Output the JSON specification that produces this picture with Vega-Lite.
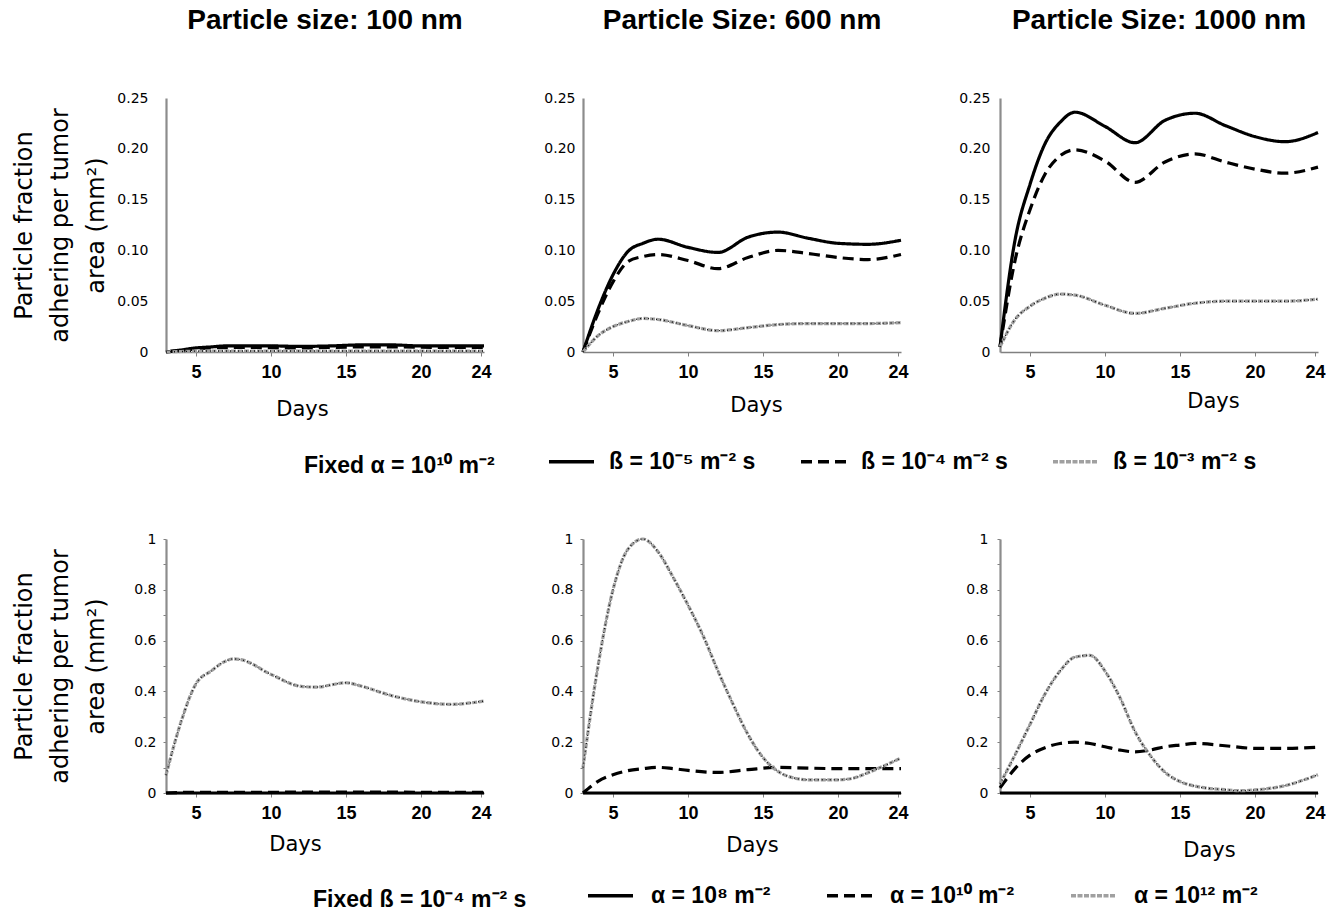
{
  "$schema": "https://vega.github.io/schema/vega-lite/v6.json",
  "padding": {"left": 12, "top": 7, "right": 2, "bottom": 2},
  "datasets": {
    "beta": [
      {"p":"100","s":"ß = 10⁻⁵ m⁻² s","d":3,"v":0},
      {"p":"100","s":"ß = 10⁻⁵ m⁻² s","d":4,"v":0.002},
      {"p":"100","s":"ß = 10⁻⁵ m⁻² s","d":5,"v":0.004},
      {"p":"100","s":"ß = 10⁻⁵ m⁻² s","d":6,"v":0.005},
      {"p":"100","s":"ß = 10⁻⁵ m⁻² s","d":7,"v":0.006},
      {"p":"100","s":"ß = 10⁻⁵ m⁻² s","d":8,"v":0.006},
      {"p":"100","s":"ß = 10⁻⁵ m⁻² s","d":10,"v":0.006},
      {"p":"100","s":"ß = 10⁻⁵ m⁻² s","d":12,"v":0.0055},
      {"p":"100","s":"ß = 10⁻⁵ m⁻² s","d":14,"v":0.006},
      {"p":"100","s":"ß = 10⁻⁵ m⁻² s","d":16,"v":0.007},
      {"p":"100","s":"ß = 10⁻⁵ m⁻² s","d":18,"v":0.007},
      {"p":"100","s":"ß = 10⁻⁵ m⁻² s","d":20,"v":0.006},
      {"p":"100","s":"ß = 10⁻⁵ m⁻² s","d":22,"v":0.006},
      {"p":"100","s":"ß = 10⁻⁵ m⁻² s","d":24.2,"v":0.006},
      {"p":"100","s":"ß = 10⁻⁴ m⁻² s","d":3,"v":0},
      {"p":"100","s":"ß = 10⁻⁴ m⁻² s","d":4,"v":0.0015},
      {"p":"100","s":"ß = 10⁻⁴ m⁻² s","d":5,"v":0.003},
      {"p":"100","s":"ß = 10⁻⁴ m⁻² s","d":6,"v":0.004},
      {"p":"100","s":"ß = 10⁻⁴ m⁻² s","d":8,"v":0.0045},
      {"p":"100","s":"ß = 10⁻⁴ m⁻² s","d":12,"v":0.004},
      {"p":"100","s":"ß = 10⁻⁴ m⁻² s","d":16,"v":0.005},
      {"p":"100","s":"ß = 10⁻⁴ m⁻² s","d":18,"v":0.005},
      {"p":"100","s":"ß = 10⁻⁴ m⁻² s","d":22,"v":0.0045},
      {"p":"100","s":"ß = 10⁻⁴ m⁻² s","d":24.2,"v":0.0045},
      {"p":"100","s":"ß = 10⁻³ m⁻² s","d":3,"v":0},
      {"p":"100","s":"ß = 10⁻³ m⁻² s","d":4,"v":0.0005},
      {"p":"100","s":"ß = 10⁻³ m⁻² s","d":6,"v":0.001},
      {"p":"100","s":"ß = 10⁻³ m⁻² s","d":12,"v":0.001},
      {"p":"100","s":"ß = 10⁻³ m⁻² s","d":18,"v":0.001},
      {"p":"100","s":"ß = 10⁻³ m⁻² s","d":24.2,"v":0.001},
      {"p":"600","s":"ß = 10⁻⁵ m⁻² s","d":3,"v":0},
      {"p":"600","s":"ß = 10⁻⁵ m⁻² s","d":4,"v":0.042},
      {"p":"600","s":"ß = 10⁻⁵ m⁻² s","d":5,"v":0.076},
      {"p":"600","s":"ß = 10⁻⁵ m⁻² s","d":6,"v":0.099},
      {"p":"600","s":"ß = 10⁻⁵ m⁻² s","d":7,"v":0.107},
      {"p":"600","s":"ß = 10⁻⁵ m⁻² s","d":8,"v":0.111},
      {"p":"600","s":"ß = 10⁻⁵ m⁻² s","d":10,"v":0.103},
      {"p":"600","s":"ß = 10⁻⁵ m⁻² s","d":12,"v":0.098},
      {"p":"600","s":"ß = 10⁻⁵ m⁻² s","d":14,"v":0.113},
      {"p":"600","s":"ß = 10⁻⁵ m⁻² s","d":16,"v":0.118},
      {"p":"600","s":"ß = 10⁻⁵ m⁻² s","d":18,"v":0.112},
      {"p":"600","s":"ß = 10⁻⁵ m⁻² s","d":20,"v":0.107},
      {"p":"600","s":"ß = 10⁻⁵ m⁻² s","d":22,"v":0.106},
      {"p":"600","s":"ß = 10⁻⁵ m⁻² s","d":24.2,"v":0.11},
      {"p":"600","s":"ß = 10⁻⁴ m⁻² s","d":3,"v":0},
      {"p":"600","s":"ß = 10⁻⁴ m⁻² s","d":4,"v":0.038},
      {"p":"600","s":"ß = 10⁻⁴ m⁻² s","d":5,"v":0.069},
      {"p":"600","s":"ß = 10⁻⁴ m⁻² s","d":6,"v":0.089},
      {"p":"600","s":"ß = 10⁻⁴ m⁻² s","d":7,"v":0.094},
      {"p":"600","s":"ß = 10⁻⁴ m⁻² s","d":8,"v":0.096},
      {"p":"600","s":"ß = 10⁻⁴ m⁻² s","d":10,"v":0.09},
      {"p":"600","s":"ß = 10⁻⁴ m⁻² s","d":12,"v":0.082},
      {"p":"600","s":"ß = 10⁻⁴ m⁻² s","d":14,"v":0.093},
      {"p":"600","s":"ß = 10⁻⁴ m⁻² s","d":16,"v":0.1},
      {"p":"600","s":"ß = 10⁻⁴ m⁻² s","d":18,"v":0.097},
      {"p":"600","s":"ß = 10⁻⁴ m⁻² s","d":20,"v":0.093},
      {"p":"600","s":"ß = 10⁻⁴ m⁻² s","d":22,"v":0.091},
      {"p":"600","s":"ß = 10⁻⁴ m⁻² s","d":24.2,"v":0.096},
      {"p":"600","s":"ß = 10⁻³ m⁻² s","d":3,"v":0},
      {"p":"600","s":"ß = 10⁻³ m⁻² s","d":4,"v":0.016},
      {"p":"600","s":"ß = 10⁻³ m⁻² s","d":5,"v":0.025},
      {"p":"600","s":"ß = 10⁻³ m⁻² s","d":6,"v":0.03},
      {"p":"600","s":"ß = 10⁻³ m⁻² s","d":7,"v":0.033},
      {"p":"600","s":"ß = 10⁻³ m⁻² s","d":8,"v":0.032},
      {"p":"600","s":"ß = 10⁻³ m⁻² s","d":10,"v":0.026},
      {"p":"600","s":"ß = 10⁻³ m⁻² s","d":12,"v":0.021},
      {"p":"600","s":"ß = 10⁻³ m⁻² s","d":14,"v":0.024},
      {"p":"600","s":"ß = 10⁻³ m⁻² s","d":16,"v":0.027},
      {"p":"600","s":"ß = 10⁻³ m⁻² s","d":18,"v":0.028},
      {"p":"600","s":"ß = 10⁻³ m⁻² s","d":22,"v":0.028},
      {"p":"600","s":"ß = 10⁻³ m⁻² s","d":24.2,"v":0.029},
      {"p":"1000","s":"ß = 10⁻⁵ m⁻² s","d":3,"v":0.005},
      {"p":"1000","s":"ß = 10⁻⁵ m⁻² s","d":4,"v":0.11},
      {"p":"1000","s":"ß = 10⁻⁵ m⁻² s","d":5,"v":0.165},
      {"p":"1000","s":"ß = 10⁻⁵ m⁻² s","d":6,"v":0.205},
      {"p":"1000","s":"ß = 10⁻⁵ m⁻² s","d":7,"v":0.226},
      {"p":"1000","s":"ß = 10⁻⁵ m⁻² s","d":8,"v":0.236},
      {"p":"1000","s":"ß = 10⁻⁵ m⁻² s","d":10,"v":0.222},
      {"p":"1000","s":"ß = 10⁻⁵ m⁻² s","d":12,"v":0.206},
      {"p":"1000","s":"ß = 10⁻⁵ m⁻² s","d":14,"v":0.228},
      {"p":"1000","s":"ß = 10⁻⁵ m⁻² s","d":16,"v":0.235},
      {"p":"1000","s":"ß = 10⁻⁵ m⁻² s","d":18,"v":0.223},
      {"p":"1000","s":"ß = 10⁻⁵ m⁻² s","d":20,"v":0.212},
      {"p":"1000","s":"ß = 10⁻⁵ m⁻² s","d":22,"v":0.207},
      {"p":"1000","s":"ß = 10⁻⁵ m⁻² s","d":24.2,"v":0.216},
      {"p":"1000","s":"ß = 10⁻⁴ m⁻² s","d":3,"v":0.005},
      {"p":"1000","s":"ß = 10⁻⁴ m⁻² s","d":4,"v":0.09},
      {"p":"1000","s":"ß = 10⁻⁴ m⁻² s","d":5,"v":0.14},
      {"p":"1000","s":"ß = 10⁻⁴ m⁻² s","d":6,"v":0.175},
      {"p":"1000","s":"ß = 10⁻⁴ m⁻² s","d":7,"v":0.193},
      {"p":"1000","s":"ß = 10⁻⁴ m⁻² s","d":8,"v":0.199},
      {"p":"1000","s":"ß = 10⁻⁴ m⁻² s","d":10,"v":0.188},
      {"p":"1000","s":"ß = 10⁻⁴ m⁻² s","d":12,"v":0.167},
      {"p":"1000","s":"ß = 10⁻⁴ m⁻² s","d":14,"v":0.187},
      {"p":"1000","s":"ß = 10⁻⁴ m⁻² s","d":16,"v":0.195},
      {"p":"1000","s":"ß = 10⁻⁴ m⁻² s","d":18,"v":0.187},
      {"p":"1000","s":"ß = 10⁻⁴ m⁻² s","d":20,"v":0.18},
      {"p":"1000","s":"ß = 10⁻⁴ m⁻² s","d":22,"v":0.176},
      {"p":"1000","s":"ß = 10⁻⁴ m⁻² s","d":24.2,"v":0.182},
      {"p":"1000","s":"ß = 10⁻³ m⁻² s","d":3,"v":0.005},
      {"p":"1000","s":"ß = 10⁻³ m⁻² s","d":4,"v":0.032},
      {"p":"1000","s":"ß = 10⁻³ m⁻² s","d":5,"v":0.045},
      {"p":"1000","s":"ß = 10⁻³ m⁻² s","d":6,"v":0.053},
      {"p":"1000","s":"ß = 10⁻³ m⁻² s","d":7,"v":0.057},
      {"p":"1000","s":"ß = 10⁻³ m⁻² s","d":8,"v":0.056},
      {"p":"1000","s":"ß = 10⁻³ m⁻² s","d":10,"v":0.046},
      {"p":"1000","s":"ß = 10⁻³ m⁻² s","d":12,"v":0.038},
      {"p":"1000","s":"ß = 10⁻³ m⁻² s","d":14,"v":0.043},
      {"p":"1000","s":"ß = 10⁻³ m⁻² s","d":16,"v":0.048},
      {"p":"1000","s":"ß = 10⁻³ m⁻² s","d":18,"v":0.05},
      {"p":"1000","s":"ß = 10⁻³ m⁻² s","d":22,"v":0.05},
      {"p":"1000","s":"ß = 10⁻³ m⁻² s","d":24.2,"v":0.052}
    ],
    "alpha": [
      {"p":"100","s":"α = 10⁸ m⁻²","d":3,"v":0},
      {"p":"100","s":"α = 10⁸ m⁻²","d":10,"v":0},
      {"p":"100","s":"α = 10⁸ m⁻²","d":17,"v":0},
      {"p":"100","s":"α = 10⁸ m⁻²","d":24.2,"v":0},
      {"p":"100","s":"α = 10¹⁰ m⁻²","d":3,"v":0},
      {"p":"100","s":"α = 10¹⁰ m⁻²","d":5,"v":0.003},
      {"p":"100","s":"α = 10¹⁰ m⁻²","d":10,"v":0.003},
      {"p":"100","s":"α = 10¹⁰ m⁻²","d":15,"v":0.004},
      {"p":"100","s":"α = 10¹⁰ m⁻²","d":20,"v":0.003},
      {"p":"100","s":"α = 10¹⁰ m⁻²","d":24.2,"v":0.003},
      {"p":"100","s":"α = 10¹² m⁻²","d":3,"v":0.07},
      {"p":"100","s":"α = 10¹² m⁻²","d":4,"v":0.28},
      {"p":"100","s":"α = 10¹² m⁻²","d":5,"v":0.43},
      {"p":"100","s":"α = 10¹² m⁻²","d":6,"v":0.48},
      {"p":"100","s":"α = 10¹² m⁻²","d":7,"v":0.52},
      {"p":"100","s":"α = 10¹² m⁻²","d":7.5,"v":0.528},
      {"p":"100","s":"α = 10¹² m⁻²","d":8,"v":0.525},
      {"p":"100","s":"α = 10¹² m⁻²","d":10,"v":0.467},
      {"p":"100","s":"α = 10¹² m⁻²","d":12,"v":0.42},
      {"p":"100","s":"α = 10¹² m⁻²","d":13,"v":0.417},
      {"p":"100","s":"α = 10¹² m⁻²","d":15,"v":0.434},
      {"p":"100","s":"α = 10¹² m⁻²","d":16,"v":0.421},
      {"p":"100","s":"α = 10¹² m⁻²","d":18,"v":0.384},
      {"p":"100","s":"α = 10¹² m⁻²","d":20,"v":0.359},
      {"p":"100","s":"α = 10¹² m⁻²","d":22,"v":0.349},
      {"p":"100","s":"α = 10¹² m⁻²","d":24.2,"v":0.362},
      {"p":"600","s":"α = 10⁸ m⁻²","d":3,"v":0},
      {"p":"600","s":"α = 10⁸ m⁻²","d":10,"v":0},
      {"p":"600","s":"α = 10⁸ m⁻²","d":17,"v":0},
      {"p":"600","s":"α = 10⁸ m⁻²","d":24.2,"v":0},
      {"p":"600","s":"α = 10¹⁰ m⁻²","d":3,"v":0},
      {"p":"600","s":"α = 10¹⁰ m⁻²","d":4,"v":0.046},
      {"p":"600","s":"α = 10¹⁰ m⁻²","d":5,"v":0.072},
      {"p":"600","s":"α = 10¹⁰ m⁻²","d":6,"v":0.088},
      {"p":"600","s":"α = 10¹⁰ m⁻²","d":7,"v":0.096},
      {"p":"600","s":"α = 10¹⁰ m⁻²","d":8,"v":0.101},
      {"p":"600","s":"α = 10¹⁰ m⁻²","d":9,"v":0.096},
      {"p":"600","s":"α = 10¹⁰ m⁻²","d":10,"v":0.089},
      {"p":"600","s":"α = 10¹⁰ m⁻²","d":12,"v":0.081},
      {"p":"600","s":"α = 10¹⁰ m⁻²","d":14,"v":0.092},
      {"p":"600","s":"α = 10¹⁰ m⁻²","d":16,"v":0.101},
      {"p":"600","s":"α = 10¹⁰ m⁻²","d":18,"v":0.098},
      {"p":"600","s":"α = 10¹⁰ m⁻²","d":20,"v":0.096},
      {"p":"600","s":"α = 10¹⁰ m⁻²","d":22,"v":0.096},
      {"p":"600","s":"α = 10¹⁰ m⁻²","d":24.2,"v":0.096},
      {"p":"600","s":"α = 10¹² m⁻²","d":3,"v":0.1},
      {"p":"600","s":"α = 10¹² m⁻²","d":4,"v":0.5},
      {"p":"600","s":"α = 10¹² m⁻²","d":5,"v":0.8},
      {"p":"600","s":"α = 10¹² m⁻²","d":6,"v":0.96},
      {"p":"600","s":"α = 10¹² m⁻²","d":7,"v":1.0},
      {"p":"600","s":"α = 10¹² m⁻²","d":8,"v":0.95},
      {"p":"600","s":"α = 10¹² m⁻²","d":9,"v":0.85},
      {"p":"600","s":"α = 10¹² m⁻²","d":10,"v":0.74},
      {"p":"600","s":"α = 10¹² m⁻²","d":11,"v":0.62},
      {"p":"600","s":"α = 10¹² m⁻²","d":12,"v":0.48},
      {"p":"600","s":"α = 10¹² m⁻²","d":13,"v":0.35},
      {"p":"600","s":"α = 10¹² m⁻²","d":14,"v":0.23},
      {"p":"600","s":"α = 10¹² m⁻²","d":15,"v":0.14},
      {"p":"600","s":"α = 10¹² m⁻²","d":16,"v":0.085},
      {"p":"600","s":"α = 10¹² m⁻²","d":17,"v":0.06},
      {"p":"600","s":"α = 10¹² m⁻²","d":18,"v":0.052},
      {"p":"600","s":"α = 10¹² m⁻²","d":20,"v":0.052},
      {"p":"600","s":"α = 10¹² m⁻²","d":21,"v":0.058},
      {"p":"600","s":"α = 10¹² m⁻²","d":22,"v":0.08},
      {"p":"600","s":"α = 10¹² m⁻²","d":24.2,"v":0.138},
      {"p":"1000","s":"α = 10⁸ m⁻²","d":3,"v":0},
      {"p":"1000","s":"α = 10⁸ m⁻²","d":10,"v":0},
      {"p":"1000","s":"α = 10⁸ m⁻²","d":17,"v":0},
      {"p":"1000","s":"α = 10⁸ m⁻²","d":24.2,"v":0},
      {"p":"1000","s":"α = 10¹⁰ m⁻²","d":3,"v":0.02},
      {"p":"1000","s":"α = 10¹⁰ m⁻²","d":4,"v":0.096},
      {"p":"1000","s":"α = 10¹⁰ m⁻²","d":5,"v":0.149},
      {"p":"1000","s":"α = 10¹⁰ m⁻²","d":6,"v":0.178},
      {"p":"1000","s":"α = 10¹⁰ m⁻²","d":7,"v":0.195},
      {"p":"1000","s":"α = 10¹⁰ m⁻²","d":8,"v":0.2},
      {"p":"1000","s":"α = 10¹⁰ m⁻²","d":9,"v":0.195},
      {"p":"1000","s":"α = 10¹⁰ m⁻²","d":10,"v":0.182},
      {"p":"1000","s":"α = 10¹⁰ m⁻²","d":11,"v":0.169},
      {"p":"1000","s":"α = 10¹⁰ m⁻²","d":12,"v":0.162},
      {"p":"1000","s":"α = 10¹⁰ m⁻²","d":13,"v":0.169},
      {"p":"1000","s":"α = 10¹⁰ m⁻²","d":14,"v":0.182},
      {"p":"1000","s":"α = 10¹⁰ m⁻²","d":15,"v":0.189},
      {"p":"1000","s":"α = 10¹⁰ m⁻²","d":16,"v":0.195},
      {"p":"1000","s":"α = 10¹⁰ m⁻²","d":18,"v":0.186},
      {"p":"1000","s":"α = 10¹⁰ m⁻²","d":20,"v":0.176},
      {"p":"1000","s":"α = 10¹⁰ m⁻²","d":22,"v":0.176},
      {"p":"1000","s":"α = 10¹⁰ m⁻²","d":24.2,"v":0.18},
      {"p":"1000","s":"α = 10¹² m⁻²","d":3,"v":0.036},
      {"p":"1000","s":"α = 10¹² m⁻²","d":4,"v":0.15},
      {"p":"1000","s":"α = 10¹² m⁻²","d":5,"v":0.27},
      {"p":"1000","s":"α = 10¹² m⁻²","d":6,"v":0.39},
      {"p":"1000","s":"α = 10¹² m⁻²","d":7,"v":0.48},
      {"p":"1000","s":"α = 10¹² m⁻²","d":8,"v":0.535},
      {"p":"1000","s":"α = 10¹² m⁻²","d":9,"v":0.542},
      {"p":"1000","s":"α = 10¹² m⁻²","d":10,"v":0.48},
      {"p":"1000","s":"α = 10¹² m⁻²","d":11,"v":0.375},
      {"p":"1000","s":"α = 10¹² m⁻²","d":12,"v":0.242},
      {"p":"1000","s":"α = 10¹² m⁻²","d":13,"v":0.149},
      {"p":"1000","s":"α = 10¹² m⁻²","d":14,"v":0.082},
      {"p":"1000","s":"α = 10¹² m⁻²","d":15,"v":0.045},
      {"p":"1000","s":"α = 10¹² m⁻²","d":16,"v":0.027},
      {"p":"1000","s":"α = 10¹² m⁻²","d":18,"v":0.013},
      {"p":"1000","s":"α = 10¹² m⁻²","d":19,"v":0.009},
      {"p":"1000","s":"α = 10¹² m⁻²","d":20,"v":0.012},
      {"p":"1000","s":"α = 10¹² m⁻²","d":22,"v":0.029},
      {"p":"1000","s":"α = 10¹² m⁻²","d":24.2,"v":0.072}
    ]
  },
  "columns": 3,
  "bounds": "flush",
  "spacing": {"column": 99, "row": 187},
  "resolve": {
    "scale": {"color": "independent", "strokeDash": "independent"},
    "legend": {"color": "independent", "strokeDash": "independent"}
  },
  "concat": [
    {
      "width": 318, "height": 254,
      "title": {"text": "Particle size: 100 nm"},
      "data": {"name": "beta"},
      "transform": [{"filter": {"field": "p", "equal": "100"}}],
      "encoding": {
        "x": {"field": "d", "type": "quantitative", "scale": {"domain": [3, 24.2], "nice": false, "zero": false}, "axis": {"values": [5, 10, 15, 20, 24], "title": "Days", "titleX": 136, "titleY": 63}},
        "y": {"field": "v", "type": "quantitative", "scale": {"domain": [0, 0.25], "nice": false}, "axis": {"values": [0, 0.05, 0.1, 0.15, 0.2, 0.25], "labelExpr": "datum.value == 0 ? '0' : format(datum.value, '.2f')", "ticks": false, "labelPadding": 18, "titlePadding": 8, "title": ["Particle fraction", "adhering per tumor", "area (mm²)"]}}
      },
      "layer": [
        {
          "mark": {"type": "line", "interpolate": "monotone", "strokeWidth": 3.2},
          "encoding": {
            "color": {"field": "s", "type": "nominal", "scale": {"domain": ["ß = 10⁻⁵ m⁻² s", "ß = 10⁻⁴ m⁻² s", "ß = 10⁻³ m⁻² s"], "range": ["#000000", "#000000", "#a0a0a0"]},
              "legend": {"orient": "none", "legendX": 138, "legendY": 339, "direction": "horizontal", "columns": 3, "title": "Fixed α = 10¹⁰ m⁻²", "titleOrient": "left", "titlePadding": 52, "titleAnchor": "middle", "titleBaseline": "top", "columnPadding": 38, "labelOffset": 13}},
            "strokeDash": {"field": "s", "type": "nominal", "scale": {"domain": ["ß = 10⁻⁵ m⁻² s", "ß = 10⁻⁴ m⁻² s", "ß = 10⁻³ m⁻² s"], "range": [[1, 0], [11, 6], [5, 1.5]]},
              "legend": {"orient": "none", "legendX": 138, "legendY": 339, "direction": "horizontal", "columns": 3, "title": "Fixed α = 10¹⁰ m⁻²", "titleOrient": "left", "titlePadding": 52, "titleAnchor": "middle", "titleBaseline": "top", "columnPadding": 38, "labelOffset": 13}}
          }
        },
        {
          "transform": [{"filter": {"field": "s", "equal": "ß = 10⁻³ m⁻² s"}}],
          "mark": {"type": "line", "interpolate": "monotone", "strokeWidth": 1.4, "strokeDash": [1, 3], "color": "#111111"},
          "encoding": {}
        }
      ]
    },
    {
      "width": 318, "height": 254,
      "title": {"text": "Particle Size: 600 nm"},
      "data": {"name": "beta"},
      "transform": [{"filter": {"field": "p", "equal": "600"}}],
      "encoding": {
        "x": {"field": "d", "type": "quantitative", "scale": {"domain": [3, 24.2], "nice": false, "zero": false}, "axis": {"values": [5, 10, 15, 20, 24], "title": "Days", "titleX": 173, "titleY": 59}},
        "y": {"field": "v", "type": "quantitative", "scale": {"domain": [0, 0.25], "nice": false}, "axis": {"values": [0, 0.05, 0.1, 0.15, 0.2, 0.25], "labelExpr": "datum.value == 0 ? '0' : format(datum.value, '.2f')", "ticks": false, "labelPadding": 8, "title": null}}
      },
      "layer": [
        {
          "mark": {"type": "line", "interpolate": "monotone", "strokeWidth": 3.2},
          "encoding": {
            "color": {"field": "s", "type": "nominal", "scale": {"domain": ["ß = 10⁻⁵ m⁻² s", "ß = 10⁻⁴ m⁻² s", "ß = 10⁻³ m⁻² s"], "range": ["#000000", "#000000", "#a0a0a0"]}, "legend": null},
            "strokeDash": {"field": "s", "type": "nominal", "scale": {"domain": ["ß = 10⁻⁵ m⁻² s", "ß = 10⁻⁴ m⁻² s", "ß = 10⁻³ m⁻² s"], "range": [[1, 0], [11, 6], [5, 1.5]]}, "legend": null}
          }
        },
        {
          "transform": [{"filter": {"field": "s", "equal": "ß = 10⁻³ m⁻² s"}}],
          "mark": {"type": "line", "interpolate": "monotone", "strokeWidth": 1.4, "strokeDash": [1, 3], "color": "#111111"},
          "encoding": {}
        }
      ]
    },
    {
      "width": 318, "height": 254,
      "title": {"text": "Particle Size: 1000 nm"},
      "data": {"name": "beta"},
      "transform": [{"filter": {"field": "p", "equal": "1000"}}],
      "encoding": {
        "x": {"field": "d", "type": "quantitative", "scale": {"domain": [3, 24.2], "nice": false, "zero": false}, "axis": {"values": [5, 10, 15, 20, 24], "title": "Days", "titleX": 213, "titleY": 55}},
        "y": {"field": "v", "type": "quantitative", "scale": {"domain": [0, 0.25], "nice": false}, "axis": {"values": [0, 0.05, 0.1, 0.15, 0.2, 0.25], "labelExpr": "datum.value == 0 ? '0' : format(datum.value, '.2f')", "ticks": false, "labelPadding": 10, "title": null}}
      },
      "layer": [
        {
          "mark": {"type": "line", "interpolate": "monotone", "strokeWidth": 3.2},
          "encoding": {
            "color": {"field": "s", "type": "nominal", "scale": {"domain": ["ß = 10⁻⁵ m⁻² s", "ß = 10⁻⁴ m⁻² s", "ß = 10⁻³ m⁻² s"], "range": ["#000000", "#000000", "#a0a0a0"]}, "legend": null},
            "strokeDash": {"field": "s", "type": "nominal", "scale": {"domain": ["ß = 10⁻⁵ m⁻² s", "ß = 10⁻⁴ m⁻² s", "ß = 10⁻³ m⁻² s"], "range": [[1, 0], [11, 6], [5, 1.5]]}, "legend": null}
          }
        },
        {
          "transform": [{"filter": {"field": "s", "equal": "ß = 10⁻³ m⁻² s"}}],
          "mark": {"type": "line", "interpolate": "monotone", "strokeWidth": 1.4, "strokeDash": [1, 3], "color": "#111111"},
          "encoding": {}
        }
      ]
    },
    {
      "width": 318, "height": 254,
      "data": {"name": "alpha"},
      "transform": [{"filter": {"field": "p", "equal": "100"}}],
      "encoding": {
        "x": {"field": "d", "type": "quantitative", "scale": {"domain": [3, 24.2], "nice": false, "zero": false}, "axis": {"values": [5, 10, 15, 20, 24], "title": "Days", "titleX": 129, "titleY": 57}},
        "y": {"field": "v", "type": "quantitative", "scale": {"domain": [0, 1], "nice": false}, "axis": {"values": [0, 0.1, 0.2, 0.3, 0.4, 0.5, 0.6, 0.7, 0.8, 0.9, 1], "labelExpr": "round(datum.value * 10) % 2 == 0 ? format(datum.value, '~g') : ''", "ticks": true, "tickSize": 3, "labelPadding": 7, "titlePadding": 25, "title": ["Particle fraction", "adhering per tumor", "area (mm²)"]}}
      },
      "layer": [
        {
          "mark": {"type": "line", "interpolate": "monotone", "strokeWidth": 3.2},
          "encoding": {
            "color": {"field": "s", "type": "nominal", "scale": {"domain": ["α = 10⁸ m⁻²", "α = 10¹⁰ m⁻²", "α = 10¹² m⁻²"], "range": ["#000000", "#000000", "#a0a0a0"]},
              "legend": {"orient": "none", "legendX": 147, "legendY": 332, "direction": "horizontal", "columns": 3, "title": "Fixed ß = 10⁻⁴ m⁻² s", "titleOrient": "left", "titlePadding": 59, "titleAnchor": "middle", "titleBaseline": "top", "columnPadding": 49, "labelOffset": 16}},
            "strokeDash": {"field": "s", "type": "nominal", "scale": {"domain": ["α = 10⁸ m⁻²", "α = 10¹⁰ m⁻²", "α = 10¹² m⁻²"], "range": [[1, 0], [11, 6], [5, 1.5]]},
              "legend": {"orient": "none", "legendX": 147, "legendY": 332, "direction": "horizontal", "columns": 3, "title": "Fixed ß = 10⁻⁴ m⁻² s", "titleOrient": "left", "titlePadding": 59, "titleAnchor": "middle", "titleBaseline": "top", "columnPadding": 49, "labelOffset": 16}}
          }
        },
        {
          "transform": [{"filter": {"field": "s", "equal": "α = 10¹² m⁻²"}}],
          "mark": {"type": "line", "interpolate": "monotone", "strokeWidth": 1.4, "strokeDash": [1, 3], "color": "#111111"},
          "encoding": {}
        }
      ]
    },
    {
      "width": 318, "height": 254,
      "data": {"name": "alpha"},
      "transform": [{"filter": {"field": "p", "equal": "600"}}],
      "encoding": {
        "x": {"field": "d", "type": "quantitative", "scale": {"domain": [3, 24.2], "nice": false, "zero": false}, "axis": {"values": [5, 10, 15, 20, 24], "title": "Days", "titleX": 169, "titleY": 58}},
        "y": {"field": "v", "type": "quantitative", "scale": {"domain": [0, 1], "nice": false}, "axis": {"values": [0, 0.1, 0.2, 0.3, 0.4, 0.5, 0.6, 0.7, 0.8, 0.9, 1], "labelExpr": "round(datum.value * 10) % 2 == 0 ? format(datum.value, '~g') : ''", "ticks": true, "tickSize": 3, "labelPadding": 7, "title": null}}
      },
      "layer": [
        {
          "mark": {"type": "line", "interpolate": "monotone", "strokeWidth": 3.2},
          "encoding": {
            "color": {"field": "s", "type": "nominal", "scale": {"domain": ["α = 10⁸ m⁻²", "α = 10¹⁰ m⁻²", "α = 10¹² m⁻²"], "range": ["#000000", "#000000", "#a0a0a0"]}, "legend": null},
            "strokeDash": {"field": "s", "type": "nominal", "scale": {"domain": ["α = 10⁸ m⁻²", "α = 10¹⁰ m⁻²", "α = 10¹² m⁻²"], "range": [[1, 0], [11, 6], [5, 1.5]]}, "legend": null}
          }
        },
        {
          "transform": [{"filter": {"field": "s", "equal": "α = 10¹² m⁻²"}}],
          "mark": {"type": "line", "interpolate": "monotone", "strokeWidth": 1.4, "strokeDash": [1, 3], "color": "#111111"},
          "encoding": {}
        }
      ]
    },
    {
      "width": 318, "height": 254,
      "data": {"name": "alpha"},
      "transform": [{"filter": {"field": "p", "equal": "1000"}}],
      "encoding": {
        "x": {"field": "d", "type": "quantitative", "scale": {"domain": [3, 24.2], "nice": false, "zero": false}, "axis": {"values": [5, 10, 15, 20, 24], "title": "Days", "titleX": 209, "titleY": 63}},
        "y": {"field": "v", "type": "quantitative", "scale": {"domain": [0, 1], "nice": false}, "axis": {"values": [0, 0.1, 0.2, 0.3, 0.4, 0.5, 0.6, 0.7, 0.8, 0.9, 1], "labelExpr": "round(datum.value * 10) % 2 == 0 ? format(datum.value, '~g') : ''", "ticks": true, "tickSize": 3, "labelPadding": 9, "title": null}}
      },
      "layer": [
        {
          "mark": {"type": "line", "interpolate": "monotone", "strokeWidth": 3.2},
          "encoding": {
            "color": {"field": "s", "type": "nominal", "scale": {"domain": ["α = 10⁸ m⁻²", "α = 10¹⁰ m⁻²", "α = 10¹² m⁻²"], "range": ["#000000", "#000000", "#a0a0a0"]}, "legend": null},
            "strokeDash": {"field": "s", "type": "nominal", "scale": {"domain": ["α = 10⁸ m⁻²", "α = 10¹⁰ m⁻²", "α = 10¹² m⁻²"], "range": [[1, 0], [11, 6], [5, 1.5]]}, "legend": null}
          }
        },
        {
          "transform": [{"filter": {"field": "s", "equal": "α = 10¹² m⁻²"}}],
          "mark": {"type": "line", "interpolate": "monotone", "strokeWidth": 1.4, "strokeDash": [1, 3], "color": "#111111"},
          "encoding": {}
        }
      ]
    }
  ],
  "config": {
    "view": {"stroke": null},
    "background": "white",
    "title": {"font": "Liberation Sans", "fontSize": 28, "fontWeight": "bold", "color": "black", "anchor": "middle", "offset": 56},
    "axis": {"grid": false, "labelFont": "DejaVu Sans", "labelFontSize": 14, "labelColor": "black", "titleFont": "DejaVu Sans", "titleFontWeight": "normal", "titleColor": "black"},
    "axisX": {"labelFont": "Liberation Sans", "labelFontWeight": "bold", "labelFontSize": 18, "labelPadding": 7, "tickSize": 4, "tickColor": "#808080", "domainColor": "#808080", "domainWidth": 1.5, "titleFontSize": 21, "titleBaseline": "alphabetic", "labelFlush": false},
    "axisY": {"domainColor": "#8c8c8c", "domainWidth": 2.2, "tickColor": "#808080", "titleFontSize": 24, "titleLineHeight": 36, "titlePadding": 13},
    "legend": {"titleFont": "Liberation Sans", "titleFontSize": 23, "titleFontWeight": "bold", "titleColor": "black", "titleLimit": 400, "labelFont": "Liberation Sans", "labelFontSize": 23, "labelFontWeight": "bold", "labelColor": "black", "labelLimit": 400, "symbolType": "stroke", "symbolSize": 2025, "symbolStrokeWidth": 3.5}
  }
}
